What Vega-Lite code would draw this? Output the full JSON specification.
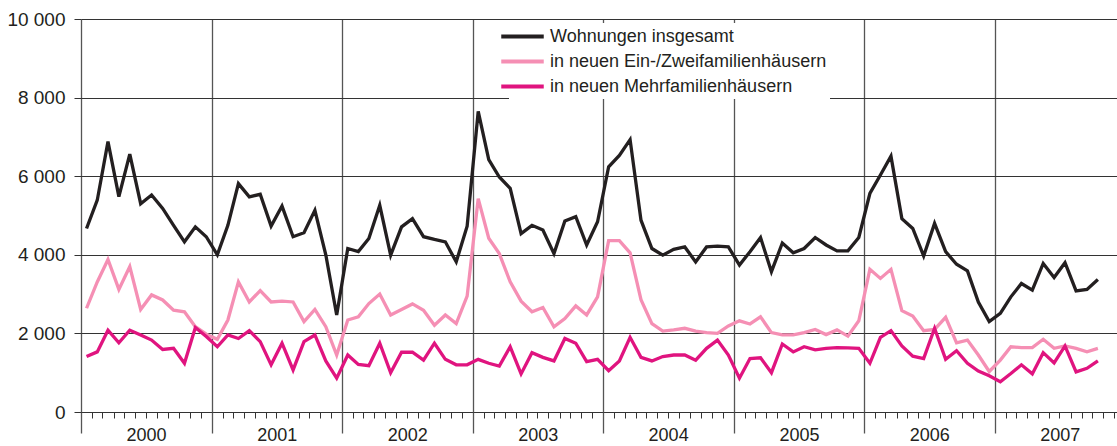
{
  "$schema": "https://vega.github.io/schema/vega-lite/v6.json",
  "width": 1036,
  "height": 393,
  "autosize": {"type": "none"},
  "padding": {"left": 81, "top": 19, "right": 0, "bottom": 34},
  "background": "white",
  "config": {"view": {"stroke": null}, "font": "Liberation Sans"},
  "data": {"values": [
    {"d":"2000-01","T":4670,"E":2640,"M":1410},{"d":"2000-02","T":5390,"E":3310,"M":1530},{"d":"2000-03","T":6880,"E":3880,"M":2080},{"d":"2000-04","T":5480,"E":3120,"M":1760},{"d":"2000-05","T":6560,"E":3700,"M":2080},{"d":"2000-06","T":5300,"E":2610,"M":1960},{"d":"2000-07","T":5520,"E":2980,"M":1830},{"d":"2000-08","T":5180,"E":2850,"M":1590},{"d":"2000-09","T":4750,"E":2590,"M":1620},{"d":"2000-10","T":4330,"E":2550,"M":1240},{"d":"2000-11","T":4710,"E":2170,"M":2150},{"d":"2000-12","T":4460,"E":1980,"M":1920},
    {"d":"2001-01","T":4000,"E":1850,"M":1660},{"d":"2001-02","T":4750,"E":2340,"M":1960},{"d":"2001-03","T":5810,"E":3310,"M":1870},{"d":"2001-04","T":5475,"E":2800,"M":2070},{"d":"2001-05","T":5540,"E":3090,"M":1790},{"d":"2001-06","T":4730,"E":2800,"M":1200},{"d":"2001-07","T":5240,"E":2820,"M":1750},{"d":"2001-08","T":4460,"E":2800,"M":1070},{"d":"2001-09","T":4560,"E":2300,"M":1790},{"d":"2001-10","T":5130,"E":2610,"M":1960},{"d":"2001-11","T":4000,"E":2170,"M":1300},{"d":"2001-12","T":2470,"E":1450,"M":860},
    {"d":"2002-01","T":4160,"E":2340,"M":1450},{"d":"2002-02","T":4080,"E":2420,"M":1210},{"d":"2002-03","T":4415,"E":2760,"M":1180},{"d":"2002-04","T":5260,"E":3000,"M":1750},{"d":"2002-05","T":3990,"E":2470,"M":1000},{"d":"2002-06","T":4710,"E":2610,"M":1520},{"d":"2002-07","T":4920,"E":2750,"M":1520},{"d":"2002-08","T":4460,"E":2590,"M":1320},{"d":"2002-09","T":4390,"E":2210,"M":1750},{"d":"2002-10","T":4330,"E":2470,"M":1340},{"d":"2002-11","T":3820,"E":2250,"M":1200},{"d":"2002-12","T":4730,"E":2950,"M":1200},
    {"d":"2003-01","T":7650,"E":5430,"M":1340},{"d":"2003-02","T":6420,"E":4420,"M":1240},{"d":"2003-03","T":5980,"E":4030,"M":1170},{"d":"2003-04","T":5690,"E":3310,"M":1660},{"d":"2003-05","T":4540,"E":2820,"M":970},{"d":"2003-06","T":4750,"E":2550,"M":1510},{"d":"2003-07","T":4630,"E":2660,"M":1390},{"d":"2003-08","T":4030,"E":2170,"M":1300},{"d":"2003-09","T":4860,"E":2380,"M":1870},{"d":"2003-10","T":4970,"E":2700,"M":1750},{"d":"2003-11","T":4250,"E":2470,"M":1280},{"d":"2003-12","T":4840,"E":2930,"M":1340},
    {"d":"2004-01","T":6240,"E":4360,"M":1050},{"d":"2004-02","T":6530,"E":4360,"M":1300},{"d":"2004-03","T":6930,"E":4050,"M":1900},{"d":"2004-04","T":4880,"E":2860,"M":1390},{"d":"2004-05","T":4160,"E":2250,"M":1300},{"d":"2004-06","T":3990,"E":2060,"M":1410},{"d":"2004-07","T":4140,"E":2090,"M":1450},{"d":"2004-08","T":4200,"E":2130,"M":1450},{"d":"2004-09","T":3820,"E":2060,"M":1320},{"d":"2004-10","T":4200,"E":2020,"M":1620},{"d":"2004-11","T":4220,"E":2000,"M":1830},{"d":"2004-12","T":4200,"E":2190,"M":1450},
    {"d":"2005-01","T":3740,"E":2320,"M":860},{"d":"2005-02","T":4080,"E":2240,"M":1360},{"d":"2005-03","T":4440,"E":2420,"M":1380},{"d":"2005-04","T":3570,"E":2020,"M":1000},{"d":"2005-05","T":4300,"E":1960,"M":1730},{"d":"2005-06","T":4050,"E":1960,"M":1530},{"d":"2005-07","T":4160,"E":2020,"M":1660},{"d":"2005-08","T":4440,"E":2100,"M":1580},{"d":"2005-09","T":4250,"E":1970,"M":1620},{"d":"2005-10","T":4100,"E":2090,"M":1640},{"d":"2005-11","T":4100,"E":1930,"M":1630},{"d":"2005-12","T":4440,"E":2320,"M":1620},
    {"d":"2006-01","T":5560,"E":3630,"M":1240},{"d":"2006-02","T":6030,"E":3400,"M":1900},{"d":"2006-03","T":6510,"E":3630,"M":2070},{"d":"2006-04","T":4920,"E":2580,"M":1680},{"d":"2006-05","T":4670,"E":2440,"M":1420},{"d":"2006-06","T":3970,"E":2070,"M":1360},{"d":"2006-07","T":4800,"E":2100,"M":2130},{"d":"2006-08","T":4080,"E":2410,"M":1340},{"d":"2006-09","T":3760,"E":1760,"M":1560},{"d":"2006-10","T":3590,"E":1830,"M":1240},{"d":"2006-11","T":2800,"E":1450,"M":1040},{"d":"2006-12","T":2300,"E":1030,"M":920},
    {"d":"2007-01","T":2510,"E":1320,"M":770},{"d":"2007-02","T":2930,"E":1660,"M":980},{"d":"2007-03","T":3270,"E":1640,"M":1200},{"d":"2007-04","T":3100,"E":1640,"M":970},{"d":"2007-05","T":3780,"E":1850,"M":1510},{"d":"2007-06","T":3420,"E":1620,"M":1250},{"d":"2007-07","T":3800,"E":1680,"M":1680},{"d":"2007-08","T":3080,"E":1620,"M":1020},{"d":"2007-09","T":3120,"E":1530,"M":1110},{"d":"2007-10","T":3370,"E":1620,"M":1300}
  ]},
  "transform": [{"fold": ["T", "E", "M"], "as": ["s", "v"]}],
  "encoding": {
    "y": {
      "field": "v", "type": "quantitative",
      "scale": {"domain": [0, 10000], "nice": false},
      "axis": {
        "title": null, "values": [0, 2000, 4000, 6000, 8000, 10000],
        "labelExpr": "replace(format(datum.value, ',d'), ',', ' ')",
        "grid": true, "gridColor": "#333333", "gridWidth": 1,
        "tickSize": 7, "tickColor": "#333333", "tickWidth": 1,
        "labelPadding": 9, "labelFontSize": 19, "labelColor": "#231f20",
        "domain": false
      }
    },
    "color": {
      "field": "s", "type": "nominal",
      "scale": {"domain": ["T", "E", "M"], "range": ["#231f20", "#f58fb4", "#e0147f"]},
      "legend": {
        "title": null, "orient": "none", "legendX": 428, "legendY": 4,
        "direction": "vertical", "symbolType": "M-2.5,0H2.5", "symbolSize": 289,
        "symbolStrokeWidth": 4, "labelFontSize": 18, "labelColor": "#231f20",
        "labelOffset": 17, "rowPadding": 5, "padding": 3, "fillColor": "white",
        "labelLimit": 0,
        "labelExpr": "datum.label === 'T' ? 'Wohnungen insgesamt' : datum.label === 'E' ? 'in neuen Ein-/Zweifamilienhäusern' : 'in neuen Mehrfamilienhäusern'"
      }
    }
  },
  "layer": [
    {
      "transform": [{"filter": "datum.s === 'T'"}],
      "mark": {"type": "line", "strokeWidth": 3.3},
      "encoding": {
        "x": {
          "field": "d", "type": "temporal", "timeUnit": "utcyearmonth", "bandPosition": 0.5,
          "scale": {"type": "utc", "domain": [{"year": 2000, "month": 1, "date": 1, "utc": true}, {"year": 2007, "month": 12, "date": 9, "utc": true}]},
          "axis": {
            "orient": "bottom", "title": null, "tickCount": {"interval": "month", "step": 1},
            "tickSize": 6, "tickColor": "#333333", "tickWidth": 1, "labels": false,
            "grid": false, "domain": true, "domainColor": "#333333", "domainWidth": 1.2
          }
        }
      }
    },
    {
      "transform": [{"filter": "datum.s === 'E'"}],
      "mark": {"type": "line", "strokeWidth": 3.3},
      "encoding": {
        "x": {
          "field": "d", "type": "temporal", "timeUnit": "utcyearmonth", "bandPosition": 0.5,
          "axis": {
            "orient": "bottom", "title": null, "tickCount": {"interval": "year", "step": 1},
            "tickSize": 21, "tickColor": "#555555", "tickWidth": 1.3,
            "grid": true, "gridColor": "#555555", "gridWidth": 1.3, "domain": false,
            "format": "%Y", "labelOffset": 65, "labelPadding": -7, "labelFontSize": 18,
            "labelColor": "#231f20", "labelFlush": false, "labelOverlap": false, "labelBound": false
          }
        }
      }
    },
    {
      "transform": [{"filter": "datum.s === 'M'"}],
      "mark": {"type": "line", "strokeWidth": 3.3},
      "encoding": {
        "x": {
          "field": "d", "type": "temporal", "timeUnit": "utcyearmonth", "bandPosition": 0.5,
          "axis": null
        }
      }
    }
  ],
  "resolve": {"axis": {"x": "independent"}}
}
